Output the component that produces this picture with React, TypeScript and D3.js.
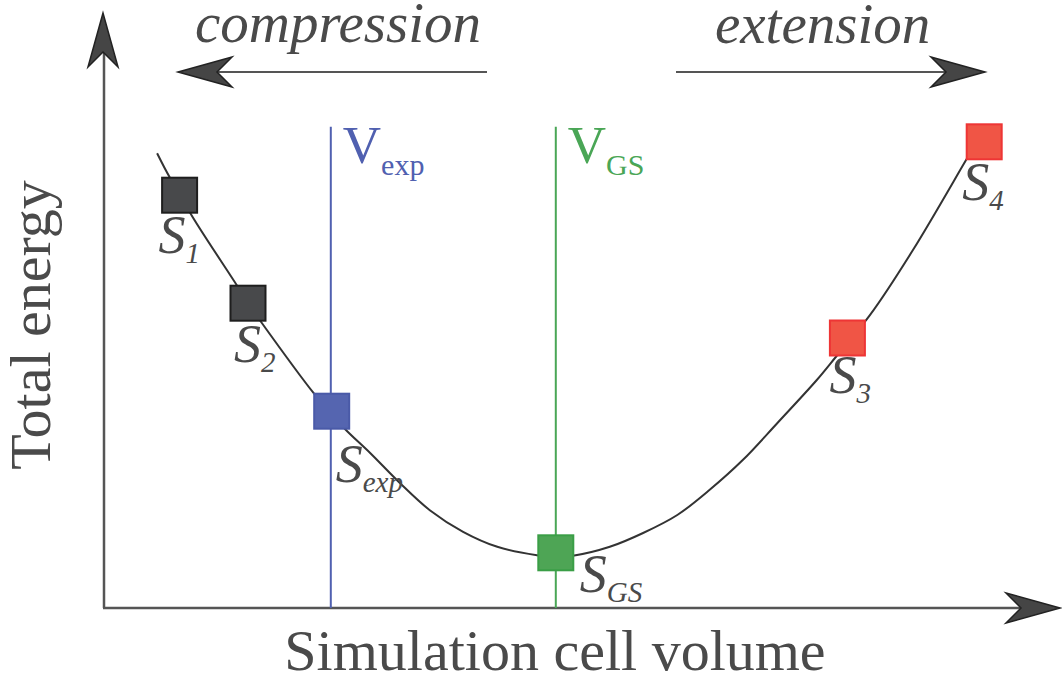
import * as d3 from 'd3'

// energy curve E(V), arbitrary units
const curveVolume = [5.9, 7.3, 8.6, 9.6, 14.8, 16.0, 17.3, 23.3, 25.2, 26.8, 29.6, 32.9, 36.2, 39.9, 43.7, 48.1, 50.2, 52.1, 56.2, 59.9, 63.7, 67.3, 71.0, 74.8, 79.2, 81.4, 85.1, 89.9, 95.8, 97.1]
const curveEnergy = [75.8, 71.8, 68.8, 65.8, 53.7, 50.8, 48.0, 35.8, 32.5, 29.8, 25.8, 20.8, 16.3, 12.7, 10.2, 8.8, 8.5, 8.7, 10.2, 12.5, 15.5, 19.7, 24.7, 30.8, 38.0, 42.0, 48.8, 59.7, 74.7, 78.0]

// sampled structures
const structureNames = ['1', '2', 'exp', 'GS', '3', '4']
const structureVolume = [8.4, 16.0, 25.3, 50.2, 82.6, 97.8]
const structureEnergy = [68.8, 50.8, 32.8, 9.2, 45.0, 77.7]

// reference volumes
const refNames = ['exp', 'GS']
const refVolume = [25.2, 50.2]
const refTop = 80.2

const W = 1062
const H = 684
const serif = '"Liberation Serif", "Times New Roman", "DejaVu Serif", serif'
const textColor = '#4a4a4a'

const squareStyle: Record<string, { fill: string; stroke: string }> = {
  '1': { fill: '#48494b', stroke: '#1e1e1e' },
  '2': { fill: '#48494b', stroke: '#1e1e1e' },
  exp: { fill: '#5565b0', stroke: '#4a5aa8' },
  GS: { fill: '#4ea555', stroke: '#3a9e46' },
  '3': { fill: '#f05545', stroke: '#ee3535' },
  '4': { fill: '#f05545', stroke: '#ee3535' },
}
const labelOffset: Record<string, [number, number]> = {
  '1': [-21, 58],
  '2': [-14, 59],
  exp: [4, 71],
  GS: [24, 39],
  '3': [-18, 55],
  '4': [-22, 58],
}
const refColor: Record<string, string> = { exp: '#5060b0', GS: '#4aa656' }

// notched arrowhead pointing along +x, tip at origin
const arrowHead = 'M0,0 L-54,-15 L-39,0 L-54,15 Z'

function Arrow({ x, y, angle }: { x: number; y: number; angle: number }) {
  return (
    <path
      d={arrowHead}
      transform={`translate(${x},${y}) rotate(${angle})`}
      fill="#454545"
      stroke="#222"
      strokeWidth={1.5}
      strokeLinejoin="miter"
    />
  )
}

export default function App() {
  const x = d3.scaleLinear().domain([0, 100]).range([104, 1004])
  const y = d3.scaleLinear().domain([0, 100]).range([608, 8])

  const pts = curveVolume.map((v, i) => [v, curveEnergy[i]] as [number, number])
  const line = d3
    .line<[number, number]>()
    .x(d => x(d[0]))
    .y(d => y(d[1]))
    .curve(d3.curveCatmullRom.alpha(0.5))

  const sq = 35
  const x0 = x(0)
  const y0 = y(0)

  return (
    <svg
      width={W}
      height={H}
      style={{ position: 'absolute', left: 0, top: 0, background: '#fff', fontFamily: serif }}
    >
      {/* axes */}
      <line x1={x0} y1={y0} x2={x0} y2={52} stroke="#555" strokeWidth={2.5} />
      <line x1={x0 - 1} y1={y0} x2={1020} y2={y0} stroke="#555" strokeWidth={2.5} />
      <Arrow x={x0 - 1} y={13} angle={-90} />
      <Arrow x={1060} y={y0} angle={0} />

      {/* compression / extension arrows */}
      <line x1={487} y1={72} x2={215} y2={72} stroke="#555" strokeWidth={2} />
      <Arrow x={178} y={72} angle={180} />
      <line x1={676} y1={72} x2={948} y2={72} stroke="#555" strokeWidth={2} />
      <Arrow x={985} y={72} angle={0} />
      <text x={195} y={42} fontSize={57} fontStyle="italic" fill={textColor}>
        compression
      </text>
      <text x={715} y={43} fontSize={57} fontStyle="italic" fill={textColor}>
        extension
      </text>

      {/* reference volumes */}
      {refNames.map((n, i) => (
        <g key={n}>
          <line
            x1={x(refVolume[i])}
            x2={x(refVolume[i])}
            y1={y(refTop)}
            y2={y0}
            stroke={refColor[n]}
            strokeWidth={2}
          />
          <text x={x(refVolume[i]) + 12} y={163} fontSize={53} fill={refColor[n]}>
            V
            <tspan fontSize={30} dy={12}>
              {n}
            </tspan>
          </text>
        </g>
      ))}

      {/* energy curve */}
      <path d={line(pts) || ''} fill="none" stroke="#333" strokeWidth={2} />

      {/* structures */}
      {structureNames.map((n, i) => {
        const cx = x(structureVolume[i])
        const cy = y(structureEnergy[i])
        const [dx, dy] = labelOffset[n]
        return (
          <g key={n}>
            <rect
              x={cx - sq / 2}
              y={cy - sq / 2}
              width={sq}
              height={sq}
              fill={squareStyle[n].fill}
              stroke={squareStyle[n].stroke}
              strokeWidth={2}
            />
            <text x={cx + dx} y={cy + dy} fontSize={54} fontStyle="italic" fill={textColor}>
              S
              <tspan fontSize={29} dy={10}>
                {n}
              </tspan>
            </text>
          </g>
        )
      })}

      {/* axis titles */}
      <text x={555} y={670} fontSize={58} textAnchor="middle" fill={textColor}>
        Simulation cell volume
      </text>
      <text
        transform="translate(50,325) rotate(-90)"
        fontSize={58}
        textAnchor="middle"
        fill={textColor}
      >
        Total energy
      </text>
    </svg>
  )
}
